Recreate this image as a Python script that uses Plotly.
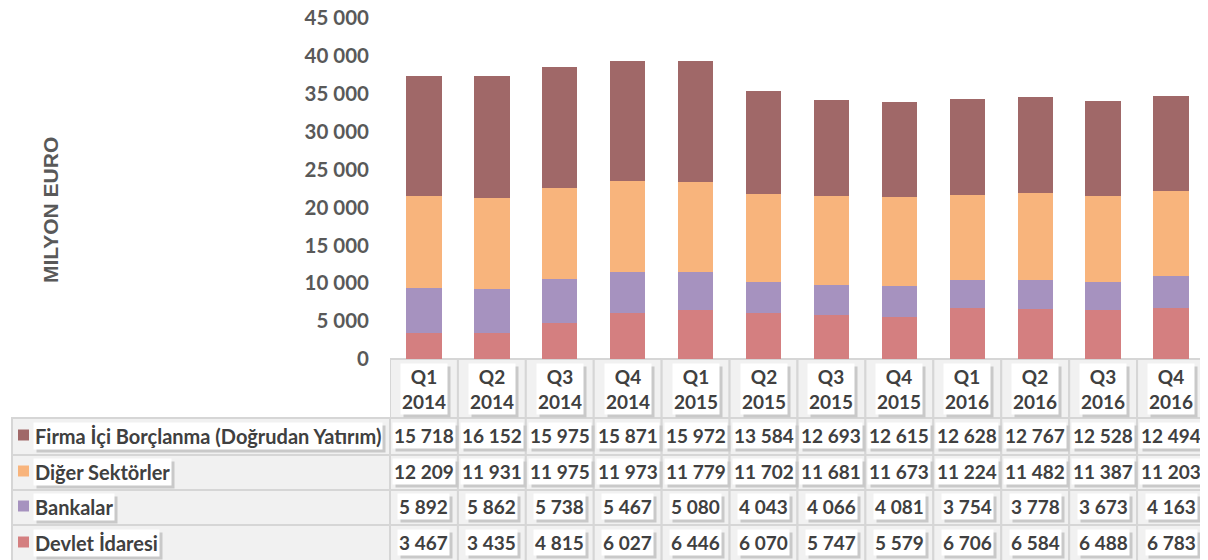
import plotly.graph_objects as go

# page body has an 8px margin, so the figure is drawn 8px smaller and all
# positions below are given in screen pixels then shifted by OFF
W, H = 1200, 552
OFF = 8

quarters = ["Q1", "Q2", "Q3", "Q4", "Q1", "Q2", "Q3", "Q4", "Q1", "Q2", "Q3", "Q4"]
years = ["2014"] * 4 + ["2015"] * 4 + ["2016"] * 4
categories = [f"{q} {y}" for q, y in zip(quarters, years)]

devlet = [3467, 3435, 4815, 6027, 6446, 6070, 5747, 5579, 6706, 6584, 6488, 6783]
bankalar = [5892, 5862, 5738, 5467, 5080, 4043, 4066, 4081, 3754, 3778, 3673, 4163]
diger = [12209, 11931, 11975, 11973, 11779, 11702, 11681, 11673, 11224, 11482, 11387, 11203]
firma = [15718, 16152, 15975, 15871, 15972, 13584, 12693, 12615, 12628, 12767, 12528, 12494]

series_names = ["Devlet İdaresi", "Bankalar", "Diğer Sektörler", "Firma İçi Borçlanma (Doğrudan Yatırım)"]
series_vals = [devlet, bankalar, diger, firma]
colors = ["#D47F80", "#A692BF", "#F8B47C", "#A06868"]

FONT = "Lato"
GRAY = "#595959"
TXT = "#404040"
GRID = "#D6D6D6"
CELL = "#F1F1F1"
SHADOW = "#C9C9C9"

fig = go.Figure()
for name, vals, col in zip(series_names, series_vals, colors):
    fig.add_trace(go.Bar(x=categories, y=vals, name=name, marker_color=col,
                         marker_line_width=0, width=0.52))

def py(px):
    return 1 - (px - OFF) / H

def pxx(px):
    return (px - OFF) / W

shapes = []
ann = []

def boxed_text(x, xref, y, text, size, xanchor="center"):
    # white label box with an offset shadow, like the excel data table
    base = dict(x=x, xref=xref, y=y, yref="paper", text=text, showarrow=False,
                xanchor=xanchor, yanchor="middle", align="center", borderpad=1)
    ann.append(dict(base, xshift=3, yshift=-3, bgcolor=SHADOW,
                    font=dict(family=FONT, size=size, color="rgba(0,0,0,0)")))
    ann.append(dict(base, bgcolor="white", font=dict(family=FONT, size=size, color=TXT)))

def cell(x0, x1, xref, top, bot):
    shapes.append(dict(type="rect", xref=xref, yref="paper", x0=x0, x1=x1, y0=py(bot), y1=py(top),
                       fillcolor=CELL, line=dict(color=GRID, width=2), layer="below"))

x_left, x_right = 390, 1205

# header (category) row
hdr_top, hdr_bot = 359, 418
for i, (q, y) in enumerate(zip(quarters, years)):
    cell(i - 0.5, i + 0.5, "x", hdr_top, hdr_bot)
    boxed_text(categories[i], "x", py(389), f"<b>{q}<br>{y}</b>", 19)

# data rows (top to bottom)
row_bounds = [418, 455, 490, 525, 562]
rows = list(zip(series_names, series_vals, colors))[::-1]
for r, (name, vals, col) in enumerate(rows):
    top, bot = row_bounds[r], row_bounds[r + 1]
    yc = (top + bot) / 2 - 1
    cell(pxx(12), pxx(x_left), "paper", top, bot)
    shapes.append(dict(type="rect", xref="paper", yref="paper", x0=pxx(18), x1=pxx(29),
                       y0=py(yc + 5), y1=py(yc - 6), fillcolor=col, line=dict(width=0)))
    boxed_text(pxx(33), "paper", py(yc), f"<b>{name}</b>", 20, xanchor="left")
    for i, v in enumerate(vals):
        cell(i - 0.5, i + 0.5, "x", top, bot)
        boxed_text(categories[i], "x", py(yc), "<b>" + f"{v:,}".replace(",", " ") + "</b>", 19)

ann.append(dict(x=pxx(50), xref="paper", y=py(210), yref="paper", text="<b>MILYON EURO</b>",
                xanchor="center", yanchor="middle",
                textangle=-90, showarrow=False, font=dict(family="Liberation Sans", size=21, color=GRAY)))

fig.update_layout(
    width=W, height=H,
    margin=dict(l=0, r=0, t=0, b=0, autoexpand=False),
    paper_bgcolor="white", plot_bgcolor="rgba(0,0,0,0)",
    barmode="stack", showlegend=False,
    separators=", ",
    shapes=shapes, annotations=ann,
    xaxis=dict(domain=[pxx(x_left), pxx(x_right)], range=[-0.5, 11.5], automargin=False,
               showticklabels=False, showgrid=False, zeroline=False, showline=False),
    yaxis=dict(domain=[py(359), py(18)], range=[0, 45000], dtick=5000, tickformat=",d",
               automargin=False, ticklabeloverflow="allow",
               showgrid=False, zeroline=False, showline=False, ticklabelstandoff=20,
               tickfont=dict(family=FONT, size=20.5, color=GRAY, weight="bold")),
)

fig.write_html("out.html")
